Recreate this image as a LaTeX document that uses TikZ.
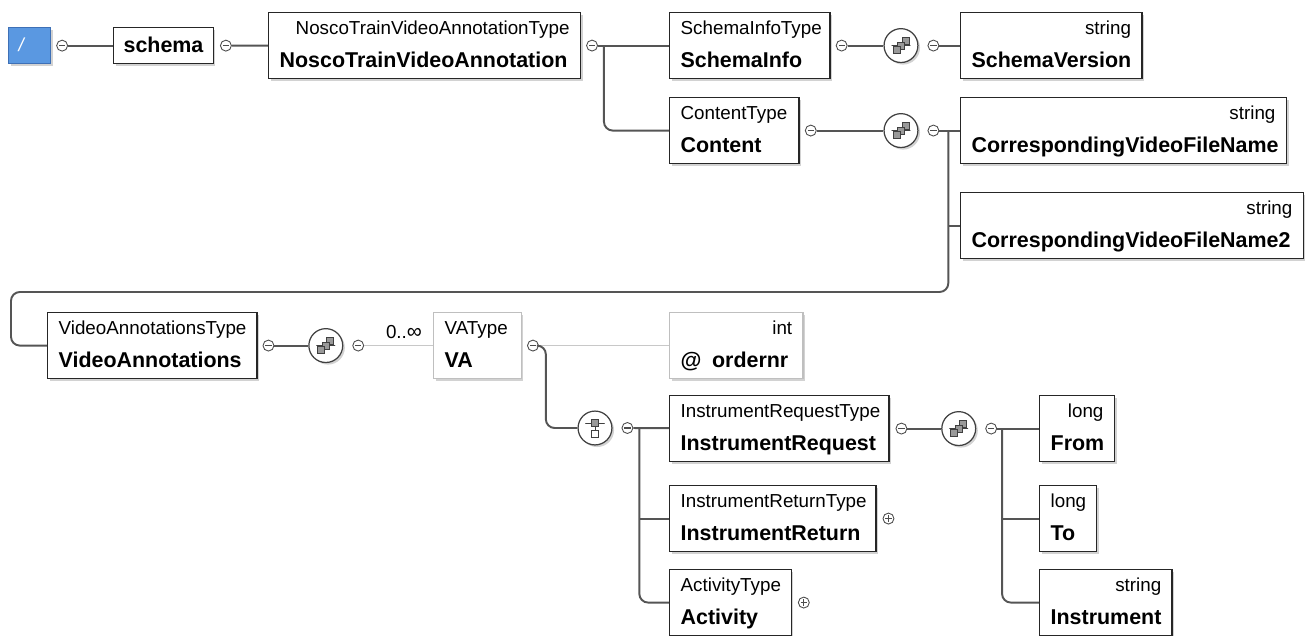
\documentclass[tikz,border=0pt]{standalone}
\usepackage{fontspec}
\setmainfont{Liberation Sans}
\usetikzlibrary{positioning,shadows}
\definecolor{RootBlue}{RGB}{90,152,225}
\definecolor{RootEdge}{RGB}{62,112,182}
\definecolor{LineGray}{RGB}{85,85,85}
\definecolor{FaintGray}{RGB}{200,200,200}
\newlength{\pxl}\setlength{\pxl}{0.5669pt}
\newcommand{\tyf}{\fontsize{10.7}{18.7}\selectfont}
\newcommand{\nmf}{\fontsize{12.2}{18.7}\selectfont\bfseries}
% type on the left / type on the right, name below
\newcommand{\elL}[2]{\mbox{#1}\\\mbox{\nmf #2}}
\newcommand{\elR}[2]{\hfill\mbox{#1}\\\mbox{\nmf #2}}

\tikzset{
  shade box/.style={drop shadow={shadow xshift=1.2pt, shadow yshift=-1.2pt, fill=black!35}},
  box/.style={draw=black!85, line width=0.8pt, fill=white, anchor=north west,
    inner ysep=0pt, inner xsep=11\pxl, text width=#1\pxl, align=left,
    text height=22\pxl, text depth=44\pxl, font=\tyf, shade box},
  faintbox/.style={box=#1, draw=black!25},
  onebox/.style={draw=black!85, line width=0.8pt, fill=white, anchor=north west,
    inner sep=0pt, minimum width=#1\pxl, text height=25\pxl, text depth=11\pxl,
    font=\nmf, shade box},
  rootbox/.style={draw=RootEdge, line width=0.8pt, fill=RootBlue, text=white,
    anchor=north west, inner ysep=0pt, inner xsep=10\pxl, text width=22\pxl,
    align=left, text height=24\pxl, text depth=12\pxl, font=\tyf\itshape, shade box},
  minus/.style={circle, draw=black!70, line width=0.5pt, fill=white,
    minimum size=11\pxl, inner sep=0pt,
    path picture={\draw[line width=0.6pt]
      ([xshift=-1.8pt]path picture bounding box.center) --
      ([xshift=1.8pt]path picture bounding box.center);}},
  plus/.style={minus,
    path picture={\draw[line width=0.6pt]
      ([xshift=-1.8pt]path picture bounding box.center) --
      ([xshift=1.8pt]path picture bounding box.center)
      ([yshift=-1.8pt]path picture bounding box.center) --
      ([yshift=1.8pt]path picture bounding box.center);}},
  seq/.style={circle, draw=black!75, line width=0.7pt, fill=white,
    minimum size=34\pxl, inner sep=0pt, shade box,
    path picture={
      \begin{scope}[shift={(path picture bounding box.center)}]
        \draw[line width=0.5pt] (-11,0) -- (11,0);
        \fill (-11,0) circle (1.7) (11,0) circle (1.7);
        \foreach \d/\e in {4.5/-4.5,0/0,-4.5/4.5}
          \draw[line width=0.4pt, fill=black!40] (\d,\e) ++(-3.5,-3.5) rectangle ++(7,7);
      \end{scope}}},
  choice/.style={circle, draw=black!75, line width=0.7pt, fill=white,
    minimum size=34\pxl, inner sep=0pt, shade box,
    path picture={
      \begin{scope}[shift={(path picture bounding box.center)}]
        \draw[line width=0.5pt] (-11,-5) -- (11,-5) (0,-5) -- (0,4);
        \fill (-11,-5) circle (1.7) (11,-5) circle (1.7);
        \draw[line width=0.4pt, fill=black!40] (-3.5,-8.5) rectangle (3.5,-1.5);
        \draw[line width=0.4pt, fill=white] (-3.5,2.5) rectangle (3.5,9.5);
      \end{scope}}},
  conn/.style={draw=LineGray, line width=1.1pt},
  faint/.style={draw=FaintGray, line width=0.6pt},
}

\begin{document}
\begin{tikzpicture}[x=0.02cm, y=-0.02cm]
  \useasboundingbox (0,0) rectangle (1306,636);

  % top row
  \node[rootbox] (root) at (8,27) {/};
  \node[minus, right=5\pxl of root] (root-m) {};
  \node[onebox=100] (schema) at (113,27) {schema};
  \node[minus, right=6\pxl of schema] (schema-m) {};
  \node[box=291] (ntva) at (268,12) {\elR{NoscoTrainVideoAnnotationType}{NoscoTrainVideoAnnotation}};
  \node[minus, right=5\pxl of ntva] (ntva-m) {};
  \coordinate[right=6\pxl of ntva-m] (ntva-j);

  \node[box=139] (sinfo) at (669,12) {\elL{SchemaInfoType}{SchemaInfo}};
  \node[minus, right=5\pxl of sinfo] (sinfo-m) {};
  \node[seq, right=36\pxl of sinfo-m] (sinfo-s) {};
  \node[minus, right=9\pxl of sinfo-s] (sinfo-sm) {};
  \node[box=160] (sver) at (960,12) {\elR{string}{SchemaVersion}};

  \node[box=108] (content) at (669,97) {\elL{ContentType}{Content}};
  \node[minus, right=5\pxl of content] (content-m) {};
  \node[seq, right=67\pxl of content-m] (content-s) {};
  \node[minus, right=9\pxl of content-s] (content-sm) {};
  \coordinate[right=9\pxl of content-sm] (content-j);
  \node[box=305] (cvfn) at (960,97) {\elR{string}{CorrespondingVideoFileName}};
  \node[box=322] (cvfn2) at (960,192) {\elR{string}{CorrespondingVideoFileName2}};
  \coordinate (wrap-l) at (11,292);

  % video annotations
  \node[box=188] (vidann) at (47,312) {\elL{VideoAnnotationsType}{VideoAnnotations}};
  \node[minus, right=5\pxl of vidann] (vidann-m) {};
  \node[seq, right=34\pxl of vidann-m] (vidann-s) {};
  \node[minus, right=9\pxl of vidann-s] (vidann-sm) {};
  \node[font=\tyf, inner sep=0pt] (mult) at (404,332) {0..\raisebox{-0.3pt}{\large∞}};
  \node[faintbox=66] (va) at (433,312) {\elL{VAType}{VA}};
  \node[minus, right=5\pxl of va] (va-m) {};
  \coordinate[right=7\pxl of va-m] (va-j);
  \node[faintbox=112] (ordernr) at (669,312) {\elR{int}{@\hspace{6pt}ordernr}};

  % choice
  \node[choice] (va-c) at (595,428) {};
  \node[minus, right=9\pxl of va-c] (va-cm) {};
  \coordinate[right=6\pxl of va-cm] (va-cj);
  \node[box=198] (ireq) at (669,395) {\elL{InstrumentRequestType}{InstrumentRequest}};
  \node[minus, right=6\pxl of ireq] (ireq-m) {};
  \node[seq, right=34\pxl of ireq-m] (ireq-s) {};
  \node[minus, right=9\pxl of ireq-s] (ireq-sm) {};
  \coordinate[right=5\pxl of ireq-sm] (ireq-j);
  \node[box=185] (iret) at (669,485) {\elL{InstrumentReturnType}{InstrumentReturn}};
  \node[plus, right=6\pxl of iret] (iret-p) {};
  \node[box=100] (act) at (669,569) {\elL{ActivityType}{Activity}};
  \node[plus, right=6\pxl of act] (act-p) {};

  \node[box=53] (from) at (1039,395) {\elR{long}{From}};
  \node[box=35] (to) at (1039,485) {\elL{long}{To}};
  \node[box=111] (instr) at (1039,569) {\elR{string}{Instrument}};

  % connectors
  \draw[conn] (root-m) -- (schema);
  \draw[conn] (schema-m) -- (ntva);
  \draw[conn] (ntva-m) -- (sinfo);
  \draw[conn, rounded corners=5pt] (ntva-j) |- (content);
  \draw[conn] (sinfo-m) -- (sinfo-s);
  \draw[conn] (sinfo-sm) -- (sver);
  \draw[conn] (content-m) -- (content-s);
  \draw[conn] (content-sm) -- (cvfn);
  \draw[conn] (content-j |- cvfn2.west) -- (cvfn2);
  \draw[conn, rounded corners=5pt] (content-j) |- (wrap-l) |- (vidann);
  \draw[conn] (vidann-m) -- (vidann-s);
  \draw[faint] (vidann-sm) -- (va);
  \draw[faint] (va-m) -- (ordernr);
  \draw[conn, rounded corners=5pt] (va-m) -- (va-j) |- (va-c);
  \draw[conn] (va-cm) -- (ireq);
  \draw[conn] (va-cj |- iret.west) -- (iret);
  \draw[conn, rounded corners=5pt] (va-cj) |- (act);
  \draw[conn] (ireq-m) -- (ireq-s);
  \draw[conn] (ireq-sm) -- (from);
  \draw[conn] (ireq-j |- to.west) -- (to);
  \draw[conn, rounded corners=5pt] (ireq-j) |- (instr);
\end{tikzpicture}
\end{document}
